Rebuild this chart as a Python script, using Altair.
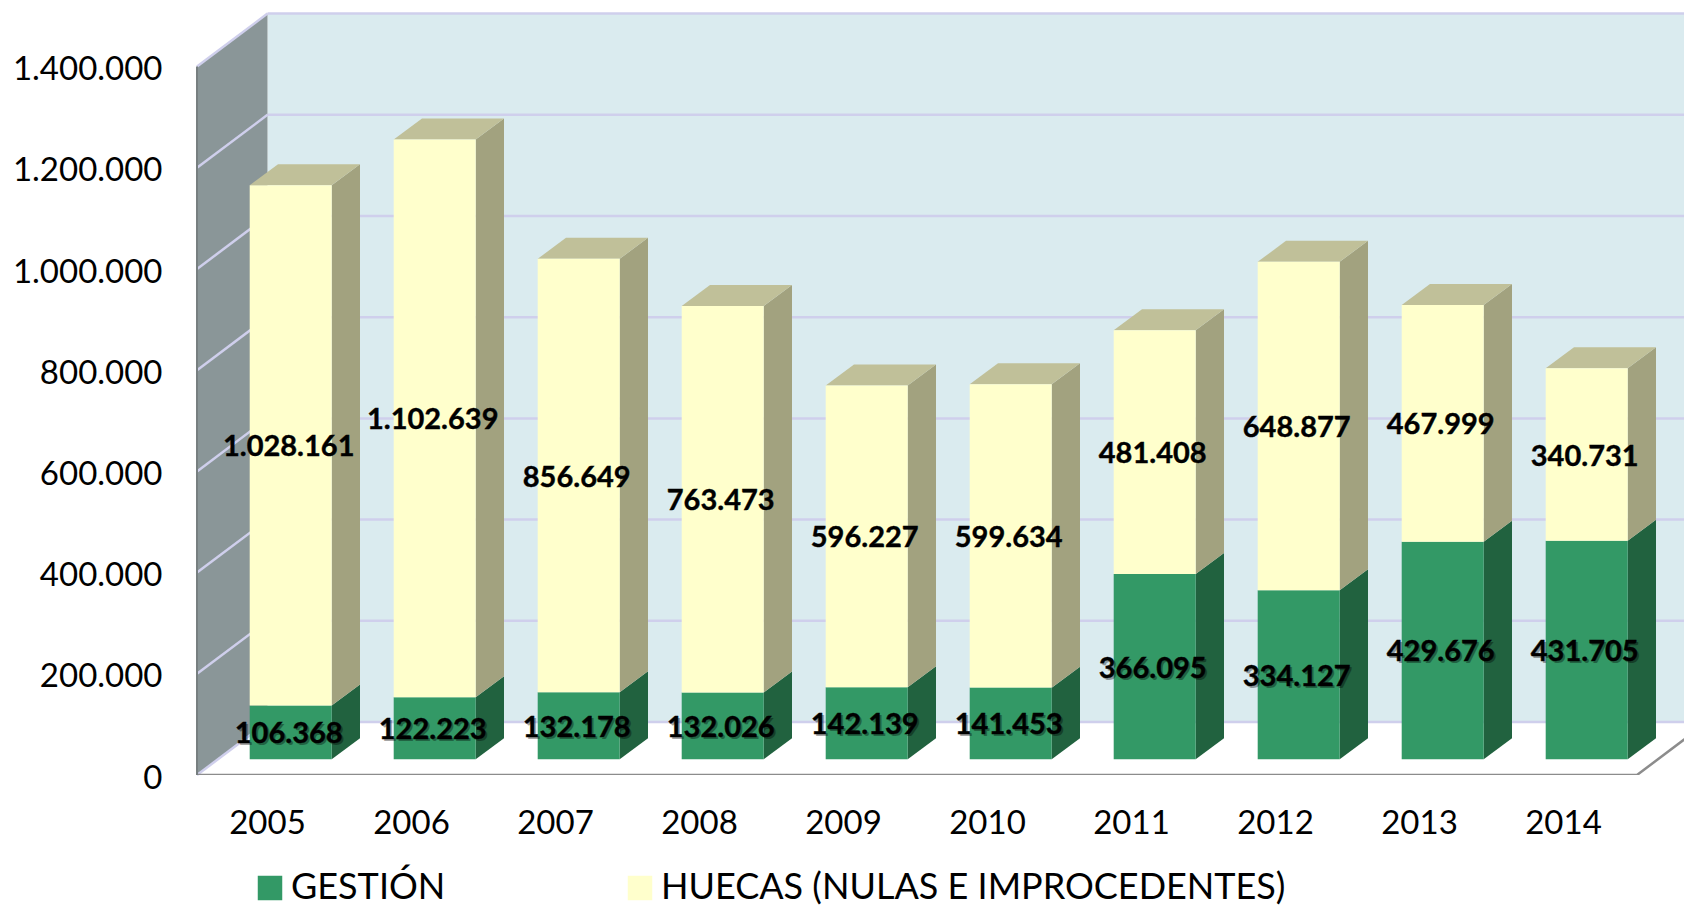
import altair as alt
import pandas as pd

years = [2005, 2006, 2007, 2008, 2009, 2010, 2011, 2012, 2013, 2014]
gestion = [106368, 122223, 132178, 132026, 142139, 141453, 366095, 334127, 429676, 431705]
huecas = [1028161, 1102639, 856649, 763473, 596227, 599634, 481408, 648877, 467999, 340731]
series_names = ["GESTIÓN", "HUECAS (NULAS E IMPROCEDENTES)"]
y_ticks = [0, 200000, 400000, 600000, 800000, 1000000, 1200000, 1400000]

# perspective geometry, in data units
PX_X = 1 / 144
PX_Y = 200000 / 101.2
W, H = 1487, 762
x_lo = 2004.5
x_hi = x_lo + W * PX_X
y_hi = H * PX_Y
wall_dx, wall_dy = 70.5 * PX_X, 53 * PX_Y
floor_dx, floor_dy = 21.7 * PX_X, 15.8 * PX_Y
half = 41 * PX_X
dep_x, dep_y = 28.3 * PX_X, 21 * PX_Y
y_top = max(y_ticks)
FONT = "Lato"
AXIS_SIZE = 33
LEGEND_SIZE = 36

xs = alt.Scale(domain=[x_lo, x_hi], nice=False, zero=False)
ys = alt.Scale(domain=[0, y_hi], nice=False, zero=False)
x_axis = alt.Axis(
    values=years, format="d", title=None, domain=False, ticks=False, grid=False,
    labelFont=FONT, labelFontSize=AXIS_SIZE, labelColor="#000000", labelPadding=32, labelOffset=-2,
)
y_axis = alt.Axis(
    values=y_ticks, title=None, domain=False, ticks=False, grid=False,
    labelFont=FONT, labelFontSize=AXIS_SIZE, labelColor="#000000", labelPadding=35, labelOffset=3,
    labelExpr="replace(format(datum.value, ','), /,/g, '.')",
)
X = lambda f="x": alt.X(f"{f}:Q", scale=xs, axis=x_axis)
Y = lambda f="y": alt.Y(f"{f}:Q", scale=ys, axis=y_axis, stack=None)


def fmt(v):
    return f"{v:,}".replace(",", ".")


front, side, top, labels = [], [], [], []
for yr, g, h in zip(years, gestion, huecas):
    cx = yr + floor_dx
    for name, lo, hi, val in [(series_names[0], 0, g, g), (series_names[1], g, g + h, h)]:
        front.append(dict(series=name, x=cx - half, x2=cx + half, y=lo + floor_dy, y2=hi + floor_dy))
        labels.append(dict(series=name, x=cx, y=(lo + hi) / 2 + floor_dy, label=fmt(val)))
        key = f"{yr}{name}"
        side.append(dict(k=key, series=name, x=cx + half, y=lo + floor_dy, y2=hi + floor_dy))
        side.append(dict(k=key, series=name, x=cx + half + dep_x, y=lo + floor_dy + dep_y, y2=hi + floor_dy + dep_y))
    t = g + h + floor_dy
    top.append(dict(k=yr, y=t, x=cx - half, x2=cx + half))
    top.append(dict(k=yr, y=t + dep_y, x=cx - half + dep_x, x2=cx + half + dep_x))

front, side, top, labels = map(pd.DataFrame, (front, side, top, labels))

back_df = pd.DataFrame([dict(x=x_lo + wall_dx, x2=x_hi, y=wall_dy, y2=y_top + wall_dy)])
wall_df = pd.DataFrame([
    dict(x=x_lo, y=0, y2=y_top),
    dict(x=x_lo + wall_dx, y=wall_dy, y2=y_top + wall_dy),
])
grid_back = pd.DataFrame([dict(x=x_lo + wall_dx, x2=x_hi, y=v + wall_dy) for v in y_ticks])
grid_side = pd.DataFrame(
    [dict(k=v, x=x_lo, y=v) for v in y_ticks] + [dict(k=v, x=x_lo + wall_dx, y=v + wall_dy) for v in y_ticks]
)
floor_df = pd.DataFrame([
    dict(k=0, x=x_lo, y=0), dict(k=0, x=x_lo + 10 * 1.0, y=0),
    dict(k=0, x=x_lo + 10 + wall_dx, y=wall_dy),
])

back = alt.Chart(back_df).mark_rect(color="#DAEBEF").encode(x=X(), x2="x2:Q", y=Y(), y2="y2:Q")
wall = alt.Chart(wall_df).mark_area(color="#8A9698", opacity=1).encode(x=X(), y=Y(), y2="y2:Q")
gback = alt.Chart(grid_back).mark_rule(color="#CFCFEC", strokeWidth=2.5).encode(x=X(), x2="x2:Q", y=Y())
gside = alt.Chart(grid_side).mark_line(color="#CFCFEC", strokeWidth=2.5).encode(x=X(), y=Y(), detail="k:N")
floor = alt.Chart(floor_df).mark_line(color="#8C8C8C", strokeWidth=2.5, clip=True).encode(
    x=X(), y=Y(), detail="k:N", order="x:Q"
)
wall_edge = alt.Chart(pd.DataFrame([dict(x=x_lo, y=0, y2=y_top)])).mark_rule(
    color="#777F80", strokeWidth=2
).encode(x=X(), y=Y(), y2="y2:Q")

side_colors = alt.Scale(domain=series_names, range=["#21623F", "#A2A27F"])
sides = alt.Chart(side).mark_area(opacity=1).encode(
    x=X(), y=Y(), y2="y2:Q", detail="k:N",
    color=alt.Color("series:N", scale=side_colors, legend=None),
)
tops = alt.Chart(top).mark_area(orient="horizontal", color="#C0C099", opacity=1).encode(
    x=X(), x2="x2:Q", y=Y(), detail="k:N",
)
main_colors = alt.Scale(domain=series_names, range=["#339966", "#FFFFCC"])
fronts = alt.Chart(front).mark_rect().encode(
    x=X(), x2="x2:Q", y=Y(), y2="y2:Q",
    color=alt.Color(
        "series:N", scale=main_colors,
        legend=alt.Legend(
            title=None, orient="none", legendX=55, legendY=857, direction="horizontal", columns=2,
            columnPadding=176, symbolType="square", symbolSize=600, symbolStrokeWidth=0,
            labelFont=FONT, labelFontSize=LEGEND_SIZE, labelColor="#000000", labelLimit=800, symbolOffset=0,
            labelOffset=3,
        ),
    ),
)
label_base = dict(font=FONT, fontSize=29, fontWeight="bold", align="center", baseline="middle")
shadow_df = labels[labels.series == series_names[0]]
shadow = alt.Chart(shadow_df).mark_text(color="#000000", opacity=0.35, dx=0, dy=4, **label_base).encode(
    x=X(), y=Y(), text="label:N"
)
text = alt.Chart(labels).mark_text(
    color="#000000", stroke="#000000", strokeWidth=0.4, dx=-2, dy=2, **label_base
).encode(x=X(), y=Y(), text="label:N")

chart = alt.layer(
    back, wall, gback, gside, floor, wall_edge, sides, tops, fronts, shadow, text
).resolve_scale(color="independent").properties(
    width=W, height=H, autosize="none",
    padding={"left": 189, "top": 5, "right": 0, "bottom": 130},
).configure_view(stroke=None)

chart.save("out.html", embed_options={"renderer": "svg", "actions": False})
